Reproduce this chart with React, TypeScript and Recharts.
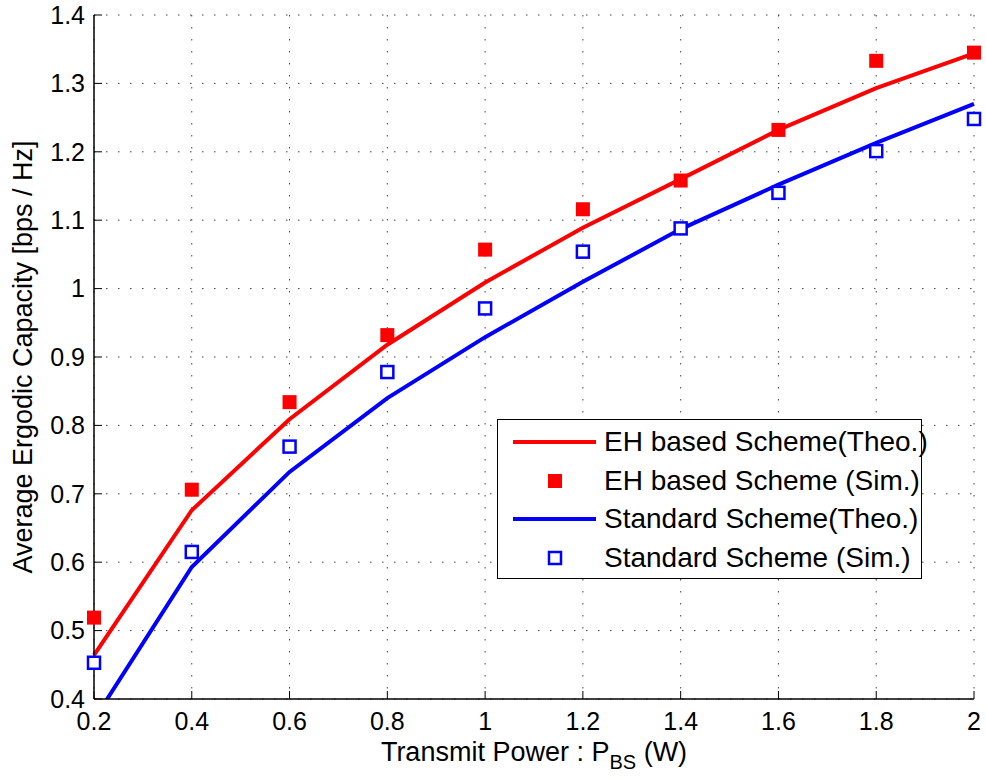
import {
  ComposedChart,
  Line,
  XAxis,
  YAxis,
  CartesianGrid,
  Legend,
} from "recharts";

const powers = [0.2, 0.4, 0.6, 0.8, 1.0, 1.2, 1.4, 1.6, 1.8, 2.0];
const ehTheo = [0.464, 0.676, 0.809, 0.918, 1.009, 1.089, 1.16, 1.232, 1.293, 1.344];
const ehSim = [0.519, 0.706, 0.834, 0.932, 1.057, 1.116, 1.158, 1.232, 1.333, 1.345];
const stdTheo = [0.37, 0.593, 0.732, 0.84, 0.929, 1.01, 1.087, 1.152, 1.213, 1.27];
const stdSim = [0.453, 0.615, 0.769, 0.878, 0.971, 1.054, 1.088, 1.14, 1.201, 1.248];

const xTicks = [0.2, 0.4, 0.6, 0.8, 1, 1.2, 1.4, 1.6, 1.8, 2];
const yTicks = [0.4, 0.5, 0.6, 0.7, 0.8, 0.9, 1, 1.1, 1.2, 1.3, 1.4];

const legendItems = [
  { label: "EH based Scheme(Theo.)", color: "#ff0000", kind: "line" },
  { label: "EH based Scheme (Sim.)", color: "#ff0000", kind: "filled" },
  { label: "Standard Scheme(Theo.)", color: "#0000ff", kind: "line" },
  { label: "Standard Scheme (Sim.)", color: "#0000ff", kind: "hollow" },
];

const data = powers.map((p, i) => ({
  p,
  ehTheo: ehTheo[i],
  ehSim: ehSim[i],
  stdTheo: stdTheo[i],
  stdSim: stdSim[i],
}));

const FONT = "'Liberation Sans', Arial, Helvetica, sans-serif";
const fmt = (v: number) => String(Number(v.toFixed(1)));

const FilledSquare = (props: any) => {
  const { cx, cy, index } = props;
  if (cx == null || cy == null) return <g key={index} />;
  return <rect key={index} x={cx - 7} y={cy - 7} width={14} height={14} fill="#ff0000" />;
};

const HollowSquare = (props: any) => {
  const { cx, cy, index } = props;
  if (cx == null || cy == null) return <g key={index} />;
  return (
    <rect
      key={index}
      x={cx - 6}
      y={cy - 6}
      width={12}
      height={12}
      fill="#ffffff"
      stroke="#0000ff"
      strokeWidth={2.5}
    />
  );
};

const XLabel = (props: any) => {
  const vb = props.viewBox;
  const cx = vb.x + vb.width / 2;
  return (
    <text x={cx} y={761} textAnchor="middle" fontSize={27} fontFamily={FONT} fill="#000">
      <tspan>Transmit Power : P</tspan>
      <tspan fontSize={20} dy={8}>BS</tspan>
      <tspan dy={-8}> (W)</tspan>
    </text>
  );
};

const YLabel = (props: any) => {
  const vb = props.viewBox;
  const cy = vb.y + vb.height / 2;
  return (
    <text
      x={23}
      y={cy}
      transform={`rotate(-90, 23, ${cy})`}
      textAnchor="middle"
      dominantBaseline="central"
      fontSize={27}
      fontFamily={FONT}
      fill="#000"
    >
      Average Ergodic Capacity [bps / Hz]
    </text>
  );
};

const LegendBox = () => (
  <div
    style={{
      width: 425,
      height: 160,
      boxSizing: "border-box",
      border: "1.5px solid #000",
      background: "#fff",
      paddingTop: 3,
      fontFamily: FONT,
      fontSize: 28,
    }}
  >
    {legendItems.map((it) => (
      <div key={it.label} style={{ display: "flex", alignItems: "center", height: 38.5 }}>
        <svg width={106} height={30} style={{ flex: "none" }}>
          {it.kind === "line" && (
            <line x1={15} x2={98} y1={15} y2={15} stroke={it.color} strokeWidth={4} />
          )}
          {it.kind === "filled" && <rect x={50} y={8} width={14} height={14} fill={it.color} />}
          {it.kind === "hollow" && (
            <rect x={51} y={9} width={12} height={12} fill="#fff" stroke={it.color} strokeWidth={2.5} />
          )}
        </svg>
        <span style={{ whiteSpace: "nowrap" }}>{it.label}</span>
      </div>
    ))}
  </div>
);

export default function App() {
  return (
    <div style={{ position: "absolute", left: 0, top: 0, background: "#fff" }}>
      <ComposedChart
        width={986}
        height={781}
        data={data}
        margin={{ top: 15, right: 12, left: 0, bottom: 0 }}
      >
        <CartesianGrid
          stroke="#444"
          strokeDasharray="1.5 10.5"
          horizontalValues={yTicks}
          verticalValues={xTicks}
        />
        <XAxis
          dataKey="p"
          type="number"
          domain={[0.2, 2]}
          ticks={xTicks}
          tickFormatter={fmt}
          height={82}
          tickSize={-8}
          tickMargin={21}
          stroke="#000"
          axisLine={{ stroke: "#000", strokeWidth: 1.5 }}
          tickLine={{ stroke: "#000", strokeWidth: 1 }}
          tick={{ fill: "#000", fontSize: 25, fontFamily: FONT }}
          interval={0}
          label={<XLabel />}
        />
        <XAxis
          xAxisId="top"
          dataKey="p"
          type="number"
          orientation="top"
          domain={[0.2, 2]}
          ticks={xTicks}
          height={0}
          tickSize={-8}
          tick={false}
          axisLine={{ stroke: "#000", strokeWidth: 1.5 }}
          tickLine={{ stroke: "#000", strokeWidth: 1 }}
          interval={0}
        />
        <YAxis
          type="number"
          domain={[0.4, 1.4]}
          allowDataOverflow
          ticks={yTicks}
          tickFormatter={fmt}
          width={94}
          tickSize={-8}
          tickMargin={17}
          axisLine={{ stroke: "#000", strokeWidth: 1.5 }}
          tickLine={{ stroke: "#000", strokeWidth: 1 }}
          tick={{ fill: "#000", fontSize: 25, fontFamily: FONT }}
          interval={0}
          label={<YLabel />}
        />
        <YAxis
          yAxisId="right"
          orientation="right"
          type="number"
          domain={[0.4, 1.4]}
          ticks={yTicks}
          width={0}
          tickSize={-8}
          tick={false}
          axisLine={{ stroke: "#000", strokeWidth: 1.5 }}
          tickLine={{ stroke: "#000", strokeWidth: 1 }}
          interval={0}
        />
        <Legend
          layout="vertical"
          align="center"
          verticalAlign="middle"
          wrapperStyle={{ left: 497, top: 419, width: 425 }}
          content={<LegendBox />}
        />
        <Line
          dataKey="ehTheo"
          type="linear"
          stroke="#ff0000"
          strokeWidth={4}
          dot={false}
          activeDot={false}
          isAnimationActive={false}
        />
        <Line
          dataKey="stdTheo"
          type="linear"
          stroke="#0000ff"
          strokeWidth={4}
          dot={false}
          activeDot={false}
          isAnimationActive={false}
        />
        <Line
          dataKey="ehSim"
          yAxisId="right"
          type="linear"
          stroke="none"
          dot={FilledSquare}
          activeDot={false}
          isAnimationActive={false}
        />
        <Line
          dataKey="stdSim"
          yAxisId="right"
          type="linear"
          stroke="none"
          dot={HollowSquare}
          activeDot={false}
          isAnimationActive={false}
        />
      </ComposedChart>
    </div>
  );
}
